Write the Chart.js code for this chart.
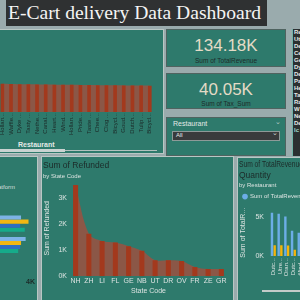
<!DOCTYPE html>
<html>
<head>
<meta charset="utf-8">
<script src="https://cdn.jsdelivr.net/npm/chart.js@4.4.0/dist/chart.umd.min.js"></script>
<style>
  html, body { margin:0; padding:0; width:300px; height:300px; overflow:hidden; background:#9aabad; font-family:"Liberation Sans", Arial, sans-serif; }
  .box { position:absolute; background:#2e7a6c; border:1px solid #b9c7c4; box-sizing:border-box; overflow:hidden; }
  canvas { position:absolute; }
  .txt { position:absolute; white-space:nowrap; }
  #title { position:absolute; left:6px; top:0; width:261px; height:26px; background:#2f3132; color:#f4f4f4;
           font-family:"Liberation Serif", serif; font-size:19.6px; line-height:25px; padding-left:2px; box-sizing:border-box; white-space:nowrap; }
  .kpi { text-align:center; color:#e4dbc6; font-size:17px; }
  .kpil { text-align:center; color:#1d2b29; font-size:6.5px; }
  #slicerList { position:absolute; left:292px; top:29px; width:20px; height:127px; background:#2b2f31; border-left:1px solid #6fb3a6;
                color:#e6e9e8; font-size:6px; font-weight:bold; line-height:7px; padding-left:1px; box-sizing:border-box; overflow:hidden; }
</style>
</head>
<body>
<div id="title">E-Cart delivery Data Dashboard</div>

<!-- panels -->
<div class="box" style="left:-1px;top:29px;width:165px;height:125px;"></div>
<div class="box" style="left:166px;top:29px;width:120px;height:38px;border-color:#4f6360;"></div>
<div class="box" style="left:166px;top:73px;width:120px;height:36px;border-color:#4f6360;"></div>
<div class="box" style="left:166px;top:117px;width:120px;height:39px;border-color:#4f6360;"></div>
<div class="box" style="left:-1px;top:156px;width:39px;height:146px;"></div>
<div class="box" style="left:41px;top:156px;width:193px;height:146px;"></div>
<div class="box" style="left:237px;top:157px;width:66px;height:145px;"></div>

<canvas id="restChart" width="160" height="109" style="left:-2px;top:30px;"></canvas>
<div class="txt" style="left:18px;top:141px;font-size:7px;font-weight:bold;color:#e3e9e7;">Restaurant</div>
<div style="position:absolute;left:0;top:149px;width:65px;height:3px;background:#c9d3d1;"></div>
<div style="position:absolute;left:65px;top:150px;width:92px;height:1px;background:#b3c1be;"></div>

<div class="txt kpi" style="left:166px;top:36px;width:120px;">134.18K</div>
<div class="txt kpil" style="left:166px;top:57px;width:120px;">Sum of TotalRevenue</div>
<div class="txt kpi" style="left:166px;top:80px;width:120px;">40.05K</div>
<div class="txt kpil" style="left:166px;top:100px;width:120px;">Sum of Tax_Sum</div>

<div class="txt" style="left:173px;top:120px;font-size:7px;color:#e3e9e7;">Restaurant</div>
<div class="txt" style="left:275px;top:118px;font-size:7px;color:#b9c9c6;">&#8964;</div>
<div style="position:absolute;left:172px;top:131px;width:108px;height:10px;background:#393b3c;border:1px solid #8e9a98;box-sizing:border-box;"></div>
<div class="txt" style="left:176px;top:132px;font-size:6px;color:#e6e9e8;">All</div>
<div class="txt" style="left:272px;top:129px;font-size:7px;color:#d0d6d5;">&#8964;</div>

<div id="slicerList">Re<br>Ut<br>De<br>Ce<br>Ge<br>Dy<br>De<br>Pa<br>He<br>Ta<br>Ra<br>W<br>Ne<br>De<br><span style="color:#9fd6cb">Ic</span></div>

<canvas id="platformChart" width="126" height="80" style="left:-90px;top:208px;"></canvas>
<div class="txt" style="right:285px;top:184px;font-size:6px;color:#d7dfdd;">by Platform</div>

<canvas id="refundChart" width="192" height="143" style="left:41px;top:157px;"></canvas>

<canvas id="revenueQtyChart" width="79" height="143" style="left:237px;top:157px;"></canvas>
<div style="position:absolute;left:262px;top:290px;width:40px;height:2px;background:#c3cbc9;"></div>

<script>
// top-left ribbon: restaurants
const restLabels = ['Hollan...', 'Waffle...', 'Dyke ...', 'Tasty ...', 'Nethe...', 'Canal...', 'Heart...', 'Wind...', 'Hollan...',
                    'Pride...', 'Taste ...', 'Chee...', 'Clog ...', 'Bicycl...', 'Goud...', 'Dutch...', 'Tulip ...', 'Bicycl...'];
const restValues = [5750, 5710, 5670, 5640, 5610, 5590, 5570, 5550, 5540, 5520, 5500, 5480, 5460, 5440, 5420, 5400, 5380, 5350];

// bottom-left clustered bars by platform
const platforms = ['Thuisbezorgd', 'Uber Eats', 'Deliveroo'];
const platformRevenue = [3670, 3830, 2500];
const platformTax = [3930, 3670, 2600];
const platformQuantity = [3640, 3640, 2300];
const platformRefunded = [3800, 3570, 2400];

// bottom-middle ribbon: refunded by state
const stateCodes = ['NH', 'ZH', 'LI', 'FL', 'GE', 'NB', 'UT', 'DR', 'OV', 'FR', 'ZE', 'GR'];
const refunded = [3520, 1640, 1360, 1300, 1160, 980, 620, 620, 590, 360, 280, 280];

// bottom-right revenue and quantity
const brLabels = ['Dutc...', 'Utre...', 'Oran...', 'Dutc...', 'Wind...', 'Goud...'];
const brRevenue = [5600, 5450, 5100, 3250, 3000, 2900];
const brQuantity = [1400, 1400, 1350, 800, 780, 750];

const barRed = '#a3391d';
const ribbon = '#8b5747';
const darkText = '#1c2a28';
const lightText = '#dbe3e1';

Chart.defaults.font.family = '"Liberation Sans", Arial, sans-serif';
Chart.defaults.animation = false;
Chart.defaults.plugins.tooltip.enabled = false;
Chart.defaults.plugins.legend.display = false;

const kfmt = v => (v / 1000) + 'K';
const noGrid = { display: false, drawTicks: false };
// fixed axis band height so plot areas line up with the dashboard
const fixH = h => s => { s.height = h; };

new Chart(document.getElementById('restChart'), {
    type: 'bar',
    data: {
        labels: restLabels,
        datasets: [
            { data: restValues, backgroundColor: barRed, barPercentage: 0.42, categoryPercentage: 1, order: 1 },
            { type: 'line', data: restValues, backgroundColor: ribbon, fill: 'origin', borderWidth: 0, pointRadius: 0, tension: 0.3, order: 2 }
        ]
    },
    options: {
        responsive: false,
        layout: { padding: { top: 6, left: 0, right: 0, bottom: 0 } },
        scales: {
            x: { afterFit: fixH(27), grid: noGrid, border: { display: false },
                 ticks: { autoSkip: false, minRotation: 90, maxRotation: 90, font: { size: 6 }, color: darkText, padding: 1 } },
            y: { display: false, min: 0, max: 15500 }
        }
    }
});

new Chart(document.getElementById('platformChart'), {
    type: 'bar',
    data: {
        labels: platforms,
        datasets: [
            { label: 'Sum of TotalRevenue', data: platformRevenue, backgroundColor: '#7db3e6' },
            { label: 'Sum of Tax_Sum', data: platformTax, backgroundColor: '#f2b712' },
            { label: 'Sum of Quantity', data: platformQuantity, backgroundColor: '#2e6fc0' },
            { label: 'Sum of Refunded', data: platformRefunded, backgroundColor: '#16ab8a' }
        ]
    },
    options: {
        responsive: false,
        indexAxis: 'y',
        datasets: { bar: { barPercentage: 1, categoryPercentage: 0.76 } },
        layout: { padding: { top: 5, right: 0, left: 0, bottom: 0 } },
        scales: {
            y: { display: false },
            x: { afterFit: fixH(11), beginAtZero: true, max: 4000, grid: noGrid, border: { display: false },
                 ticks: { stepSize: 2000, callback: kfmt, color: darkText, font: { size: 7, weight: 'bold' }, padding: 1 } }
        }
    }
});

new Chart(document.getElementById('refundChart'), {
    type: 'bar',
    data: {
        labels: stateCodes,
        datasets: [
            { data: refunded, backgroundColor: barRed, barPercentage: 0.38, categoryPercentage: 1, order: 1 },
            { type: 'line', data: refunded, backgroundColor: ribbon, fill: 'origin', borderWidth: 0, pointRadius: 0, tension: 0.35, order: 2 }
        ]
    },
    options: {
        responsive: false,
        layout: { padding: { top: 0, left: 2, right: 5, bottom: 5 } },
        plugins: {
            title: { display: true, text: 'Sum of Refunded', align: 'start', color: darkText, font: { size: 8.5, weight: 'normal' }, padding: { top: 4, bottom: 2 } },
            subtitle: { display: true, text: 'by State Code', align: 'start', color: lightText, font: { size: 6 }, padding: { bottom: 0 } }
        },
        scales: {
            y: { beginAtZero: true, max: 3700, grid: noGrid, border: { display: false },
                 ticks: { stepSize: 1000, includeBounds: false, callback: kfmt, color: lightText, font: { size: 7 }, padding: 2 },
                 title: { display: true, text: 'Sum of Refunded', color: lightText, font: { size: 7 }, padding: { top: 0, bottom: 5 } } },
            x: { grid: noGrid, border: { display: false },
                 ticks: { autoSkip: false, maxRotation: 0, color: lightText, font: { size: 7 }, padding: 1 },
                 title: { display: true, text: 'State Code', color: lightText, font: { size: 7 }, padding: 0 } }
        }
    }
});

new Chart(document.getElementById('revenueQtyChart'), {
    type: 'bar',
    data: {
        labels: brLabels,
        datasets: [
            { label: 'Sum of TotalRevenue', data: brRevenue, backgroundColor: '#6cade6' },
            { label: 'Sum of Quantity', data: brQuantity, backgroundColor: '#f5b40a' }
        ]
    },
    options: {
        responsive: false,
        datasets: { bar: { barPercentage: 0.9, categoryPercentage: 0.8 } },
        layout: { padding: { top: 0, left: 2, right: 0, bottom: 24 } },
        plugins: {
            title: { display: true, text: ['Sum of TotalRevenue and', 'Quantity'], align: 'start', color: darkText,
                     font: { size: 8.5, weight: 'normal', lineHeight: 1.2 }, padding: { top: 3, bottom: 1 } },
            subtitle: { display: true, text: 'by Restaurant', align: 'start', color: lightText, font: { size: 6 }, padding: { bottom: 1 } },
            legend: { display: true, align: 'start',
                      labels: { usePointStyle: true, pointStyle: 'circle', boxWidth: 4, boxHeight: 4, padding: 4,
                                color: lightText, font: { size: 6 }, filter: item => item.datasetIndex === 0 } }
        },
        scales: {
            y: { beginAtZero: true, max: 6000, grid: noGrid, border: { display: false },
                 ticks: { stepSize: 5000, includeBounds: false, callback: kfmt, color: lightText, font: { size: 7 }, padding: 6 },
                 title: { display: true, text: 'Sum of TotalR...', color: lightText, font: { size: 7 }, padding: { top: 0, bottom: 2 } } },
            x: { afterFit: fixH(20), grid: noGrid, border: { display: false },
                 ticks: { autoSkip: false, minRotation: 90, maxRotation: 90, color: lightText, font: { size: 6 }, padding: 2 } }
        }
    }
});
</script>
</body>
</html>
